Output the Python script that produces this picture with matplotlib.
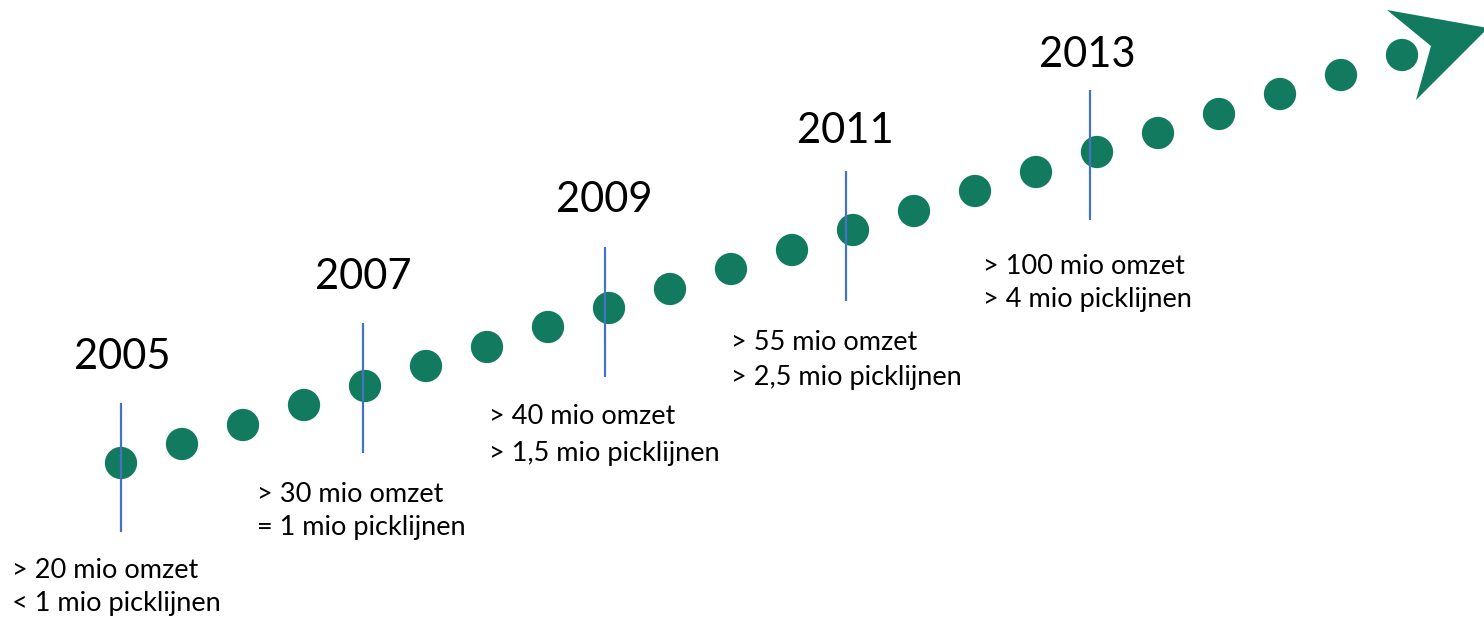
import matplotlib
matplotlib.use("Agg")
import matplotlib.pyplot as plt
from matplotlib.patches import Polygon

# ---- data (pixel coordinates) ----
dot_x = [121, 182, 243, 304, 365, 426, 487, 548, 609, 670, 731, 792,
         853, 914, 975, 1036, 1097, 1158, 1219, 1280, 1341, 1402]
dot_y = [463, 444, 425, 405, 386, 366, 347, 327, 308, 289, 269, 250,
         230, 211, 191, 172, 152, 133, 114, 94, 75, 55]

years = ["2005", "2007", "2009", "2011", "2013"]
year_x = [122, 363, 604, 845, 1087]
year_y = [357, 277, 200, 131, 55]

marker_x = [121, 363, 605, 846, 1090]
marker_top = [403, 323, 247, 171, 90]
marker_bottom = [532, 453, 377, 301, 220]

note_x = [12, 257, 489, 731, 983]
note_y1 = [571, 494, 417, 342, 266]
note_y2 = [604, 528, 453, 377, 300]
note_line1 = ["> 20 mio omzet", "> 30 mio omzet", "> 40 mio omzet",
              "> 55 mio omzet", "> 100 mio omzet"]
note_line2 = ["< 1 mio picklijnen", "= 1 mio picklijnen", "> 1,5 mio picklijnen",
              "> 2,5 mio picklijnen", "> 4 mio picklijnen"]

arrow_pts = [(1387, 10), (1488, 28), (1416, 100), (1431, 46)]

GREEN = "#127A5E"
BLUE = "#4472C4"
FONT = ["Lato", "DejaVu Sans"]

fig = plt.figure(figsize=(14.84, 6.18), dpi=100)
ax = fig.add_axes([0, 0, 1, 1])
ax.set_xlim(0, 1484)
ax.set_ylim(618, 0)
ax.axis("off")

ax.add_patch(Polygon(arrow_pts, closed=True, facecolor=GREEN, edgecolor="none", zorder=2))

ax.vlines(marker_x, marker_top, marker_bottom, colors=BLUE, linewidth=1.6, zorder=4)
ax.scatter(dot_x, dot_y, s=540, color=GREEN, edgecolors="none", zorder=3)

for yr, x, y in zip(years, year_x, year_y):
    ax.text(x, y, yr, ha="center", va="center", fontsize=30, family=FONT, color="black")

for x, y1, y2, t1, t2 in zip(note_x, note_y1, note_y2, note_line1, note_line2):
    ax.text(x, y1, t1, ha="left", va="center", fontsize=19.5, family=FONT, color="black")
    ax.text(x, y2, t2, ha="left", va="center", fontsize=19.5, family=FONT, color="black")

fig.savefig("out.png", dpi=100, facecolor="white")
